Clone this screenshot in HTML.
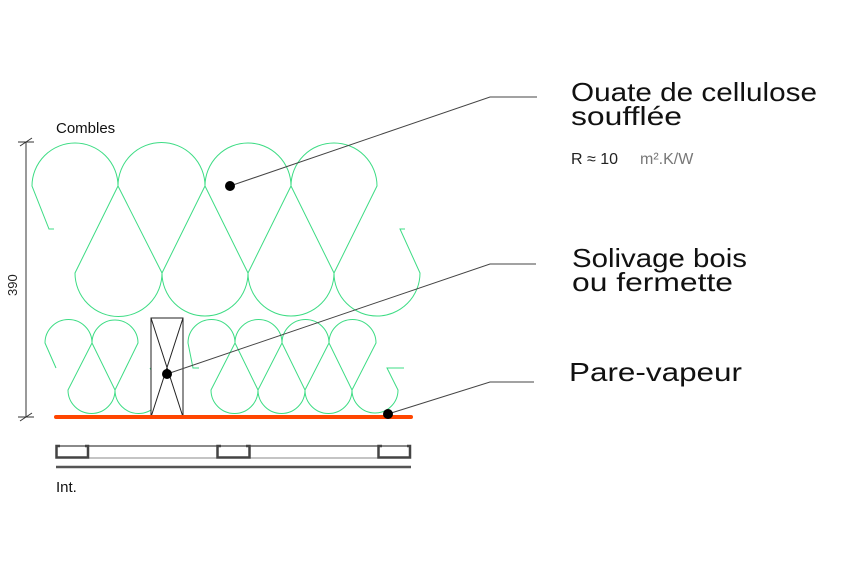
<!DOCTYPE html>
<html><head><meta charset="utf-8"><style>
html,body{margin:0;padding:0;background:#fff;}
svg{display:block;}
</style></head><body>
<svg width="843" height="562" viewBox="0 0 843 562" xmlns="http://www.w3.org/2000/svg" font-family="Liberation Sans, sans-serif">
<rect width="843" height="562" fill="#fff"/>
<!-- top coil -->
<path fill="none" stroke="#3ddc84" stroke-width="1" d="M54,229 L49,229 L32,186 A43,43 0 0 1 118,186 L75,273 A43,43 0 0 0 162,273 L118,186 A43.5,43.5 0 0 1 205,186 L162,273 A43,43 0 0 0 248,273 L205,186 A43,43 0 0 1 291,186 L248,273 A43,43 0 0 0 334,273 L291,186 A43,43 0 0 1 377,186 L334,273 A43,43 0 0 0 420,273 L400,229 L405,229"/>
<!-- lower coils -->
<path fill="none" stroke="#3ddc84" stroke-width="1" d="M56,368 L45,343 A23.5,23.5 0 0 1 92,343 L68,390 A23.5,23.5 0 0 0 115,390 L92,343 A23,23 0 0 1 138,343 L115,390 A23.5,23.5 0 0 0 162,390 L150,368"/>
<path fill="none" stroke="#3ddc84" stroke-width="1" d="M199,368 L193,368 L188,343 A23.5,23.5 0 0 1 235,343 L211,390 A23.5,23.5 0 0 0 258,390 L235,343 A23.5,23.5 0 0 1 282,343 L258,390 A23.5,23.5 0 0 0 305,390 L282,343 A23.5,23.5 0 0 1 329,343 L305,390 A23.5,23.5 0 0 0 352,390 L329,343 A23.5,23.5 0 0 1 376,343 L352,390 A23,23 0 0 0 398,390 L387,368 L404,368"/>
<!-- joist -->
<rect x="151" y="318" width="32" height="99" fill="#fff" stroke="#222" stroke-width="1"/>
<path d="M151,318 L183,417 M183,318 L151,417" stroke="#222" stroke-width="1"/>
<!-- dimension -->
<path d="M26,142 L26,417 M20,146 L32,138 M20,421 L32,413 M18,142 L34,142 M18,417 L34,417" stroke="#333" stroke-width="1" fill="none"/>
<text x="0" y="0" font-size="13" fill="#222" transform="translate(17,296) rotate(-90)">390</text>
<text x="56" y="133" font-size="15" fill="#111">Combles</text>
<!-- vapour barrier -->
<line x1="56" y1="417" x2="411" y2="417" stroke="#ff4500" stroke-width="4" stroke-linecap="round"/>
<!-- rails -->
<line x1="56" y1="446" x2="411" y2="446" stroke="#444" stroke-width="1.2"/>
<line x1="56" y1="458" x2="411" y2="458" stroke="#888" stroke-width="1"/>
<path d="M60,446 L56.5,446 L56.5,457.5 L88,457.5 L88,446 L85,446 M221,446 L217.5,446 L217.5,457.5 L249.5,457.5 L249.5,446 L246,446 M382,446 L378.5,446 L378.5,457.5 L410,457.5 L410,446 L407,446" fill="none" stroke="#444" stroke-width="2.5"/>
<line x1="56" y1="467" x2="411" y2="467" stroke="#555" stroke-width="2.5"/>
<text x="56" y="492" font-size="15" fill="#111">Int.</text>
<!-- leaders -->
<path d="M230,186 L490,97 L537,97 M167,374 L490,264 L536,264 M388,414 L490,382 L534,382" fill="none" stroke="#444" stroke-width="1"/>
<circle cx="230" cy="186" r="5" fill="#000"/>
<circle cx="167" cy="374" r="5" fill="#000"/>
<circle cx="388" cy="414" r="5" fill="#000"/>
<!-- labels -->
<text x="571" y="101" font-size="26" fill="#111" textLength="246" lengthAdjust="spacingAndGlyphs">Ouate de cellulose</text>
<text x="571" y="125" font-size="26" fill="#111" textLength="111" lengthAdjust="spacingAndGlyphs">soufflée</text>
<text x="571" y="164" font-size="16" fill="#222">R ≈ 10</text>
<text x="640" y="164" font-size="16" fill="#777">m².K/W</text>
<text x="572" y="267" font-size="26" fill="#111" textLength="175" lengthAdjust="spacingAndGlyphs">Solivage bois</text>
<text x="572" y="291" font-size="26" fill="#111" textLength="161" lengthAdjust="spacingAndGlyphs">ou fermette</text>
<text x="569" y="381" font-size="26" fill="#111" textLength="173" lengthAdjust="spacingAndGlyphs">Pare-vapeur</text>
</svg>
</body></html>
